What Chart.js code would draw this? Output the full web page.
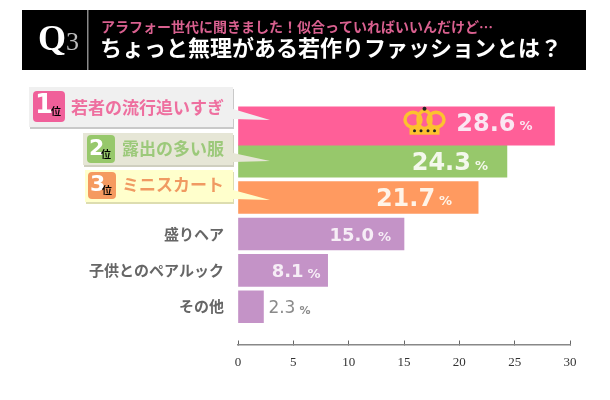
<!DOCTYPE html>
<html><head><meta charset="utf-8">
<style>html,body{margin:0;padding:0;background:#fff}#w{width:610px;height:400px;position:relative}</style>
<script src="https://cdn.jsdelivr.net/npm/chart.js@4"></script>
</head><body><div id="w"><canvas id="c" width="610" height="400"></canvas></div>
<script>
const categories = ['若者の流行追いすぎ','露出の多い服','ミニスカート','盛りヘア','子供とのペアルック','その他'];
const values = [28.6,24.3,21.7,15.0,8.1,2.3];
const valueLabels = ['28.6','24.3','21.7','15.0','8.1','2.3'];
const xTicks = [0,5,10,15,20,25,30];
const barColors = ['#ff5f98','#97c86b','#ff9a60','#c493c7','#c493c7','#c493c7'];
const labelColors = ['#ee6f9f','#9cc97a','#f09a62','#666666','#666666','#666666'];
const labelSizes = [17,17,17,15,15,15];
const labelLift = [35,25,25,0,0,0];
const valueColors = ['#fbe6f2','#f4f8ec','#fff4e8','#f6edf6','#f6edf6','#8a8a8a'];
const valueInsets = [22,19,26,13,7,-47];
const valueShift = [0,3,2,2,2,2];
const valueSizes = [24,24,24,18,18,17];
const JP = '"Noto Sans CJK JP"';
const SANS = '"DejaVu Sans"';
const SERIF = '"Liberation Serif"';

function rr(ctx,x,y,w,h,r,fill){ctx.beginPath();ctx.roundRect(x,y,w,h,r);ctx.fillStyle=fill;ctx.fill();}
const callouts = [
 {x:29,y:87,w:204,h:40,bg:'#f0f0f0',sh:'#c9c9c9',bx:33,by:91,bw:32,bh:31,bc:'#f0609a',n:'1',ns:26,wedge:[233,109,270,120,233,119]},
 {x:83,y:133,w:150,h:32,bg:'#e6e6d6',sh:'#cfcfbf',bx:87,by:135,bw:28,bh:28,bc:'#97c86b',n:'2',ns:22,wedge:[233,153,270,161,233,162]},
 {x:85,y:170,w:148,h:32,bg:'#ffffcc',sh:'#ddddb0',bx:88,by:172,bw:28,bh:27,bc:'#f59a60',n:'3',ns:22,wedge:[233,190,270,200,233,199]}
];
const deco = {
 id:'deco',
 beforeDraw(ch){
  const c=ch.ctx;c.save();
  c.fillStyle='#000';c.fillRect(22,10,564,60);
  c.fillStyle='#8a8a8a';c.fillRect(87,10,1.5,60);
  c.textBaseline='alphabetic';c.textAlign='left';
  c.fillStyle='#fff';c.font='bold 36px '+SERIF;c.fillText('Q',38,50);
  c.fillStyle='#bbb';c.font='26px '+SERIF;c.fillText('3',66,50);
  c.fillStyle='#d9608f';c.font='bold 14px '+JP;c.fillText('アラフォー世代に聞きました！似合っていればいいんだけど…',101,32);
  c.fillStyle='#fff';c.font='bold 22px '+JP;c.fillText('ちょっと無理がある若作りファッションとは？',100,56);
  callouts.forEach(o=>{
   c.fillStyle=o.sh;c.fillRect(o.x+1,o.y+2,o.w,o.h);
   c.fillStyle=o.bg;c.fillRect(o.x,o.y,o.w,o.h);
   rr(c,o.bx,o.by,o.bw,o.bh,4,o.bc);
   c.fillStyle='#fff';c.font='bold '+o.ns+'px '+SANS;c.textBaseline='middle';c.textAlign='left';
   c.fillText(o.n,o.bx+2,o.by+o.bh/2);
   c.fillStyle='#000';c.font='bold 10px '+JP;c.fillText('位',o.bx+o.bw-14,o.by+o.bh/2+5);
  });
  c.restore();
 },
 afterDatasetsDraw(ch){
  const c=ch.ctx;c.save();
  callouts.forEach(o=>{const w=o.wedge;c.beginPath();c.moveTo(w[0],w[1]);c.lineTo(w[2],w[3]);c.lineTo(w[4],w[5]);c.closePath();c.fillStyle=o.bg;c.fill();});
  c.textBaseline='middle';c.textAlign='left';
  const m=values.map((v,i)=>ch.getDatasetMeta(i===0?0:1).data[i]);
  m.forEach((b,i)=>{
   const right=b.x-valueInsets[i],fs=valueSizes[i],pct=i===5?11:13,y=b.y+valueShift[i];
   c.font='bold '+pct+'px '+SANS;const pw=c.measureText('%').width;
   c.fillStyle=valueColors[i];c.fillText('%',right-pw,y+2);
   c.font=(i===5?'':'bold ')+fs+'px '+SANS;const nw=c.measureText(valueLabels[i]).width;
   c.fillText(valueLabels[i],right-pw-4-nw,y);
  });
  // crown
  const b0=m[0],cx=b0.x-valueInsets[0]-108,cy=b0.y-4;
  c.strokeStyle='#fcc22e';c.lineWidth=3.5;c.fillStyle='#fcc22e';
  c.beginPath();c.ellipse(cx-11.5,cy-1,8,7.5,0,0,Math.PI*2);c.stroke();
  c.beginPath();c.ellipse(cx+11.5,cy-1,8,7.5,0,0,Math.PI*2);c.stroke();
  c.beginPath();c.ellipse(cx,cy-1,6.5,9,0,0,Math.PI*2);c.stroke();
  c.fillRect(cx-15,cy+6,30,8);
  c.fillStyle='#222';
  [-10,-3.5,3.5,10].forEach(d=>{c.beginPath();c.arc(cx+d,cy+10,1.5,0,Math.PI*2);c.fill();});
  c.beginPath();c.arc(cx,cy-12,2,0,Math.PI*2);c.fill();
  c.restore();
 }
};
new Chart(document.getElementById('c'),{
 type:'bar',
 data:{labels:categories,datasets:[
  {data:values.map((v,i)=>i===0?v:null),backgroundColor:barColors,barThickness:41,borderWidth:0,grouped:false},
  {data:values.map((v,i)=>i===0?null:v),backgroundColor:barColors,barThickness:32,borderWidth:0,grouped:false}
 ]},
 plugins:[deco],
 options:{
  indexAxis:'y',responsive:false,animation:false,devicePixelRatio:1,
  layout:{padding:{left:0,top:106.5,right:40,bottom:75}},
  plugins:{legend:{display:false},tooltip:{enabled:false},title:{display:false}},
  scales:{
   y:{type:'category',offset:true,grid:{display:false,drawTicks:false},border:{display:false},
    afterFit(s){s.width=238;},
    ticks:{padding:14,autoSkip:false,
     callback(v,i){return labelLift[i]?[categories[i],'']:categories[i];},
     color:ctx=>labelColors[ctx.index],
     font:ctx=>({family:JP,weight:'bold',size:labelSizes[ctx.index],lineHeight:labelLift[ctx.index]?labelLift[ctx.index]+'px':1.2})}},
   x:{type:'linear',min:0,max:30,position:{y:6.05},
    afterBuildTicks(s){s.ticks=xTicks.map(v=>({value:v}));},
    afterFit(s){s.height=0;},
    border:{display:true,color:'#888',width:1.5},
    grid:{drawOnChartArea:false,drawTicks:true,tickLength:-5,color:'#666'},
    ticks:{padding:15,maxRotation:0,color:'#333',font:{family:SERIF,size:13}}}
  }
 }
});
</script></body></html>
